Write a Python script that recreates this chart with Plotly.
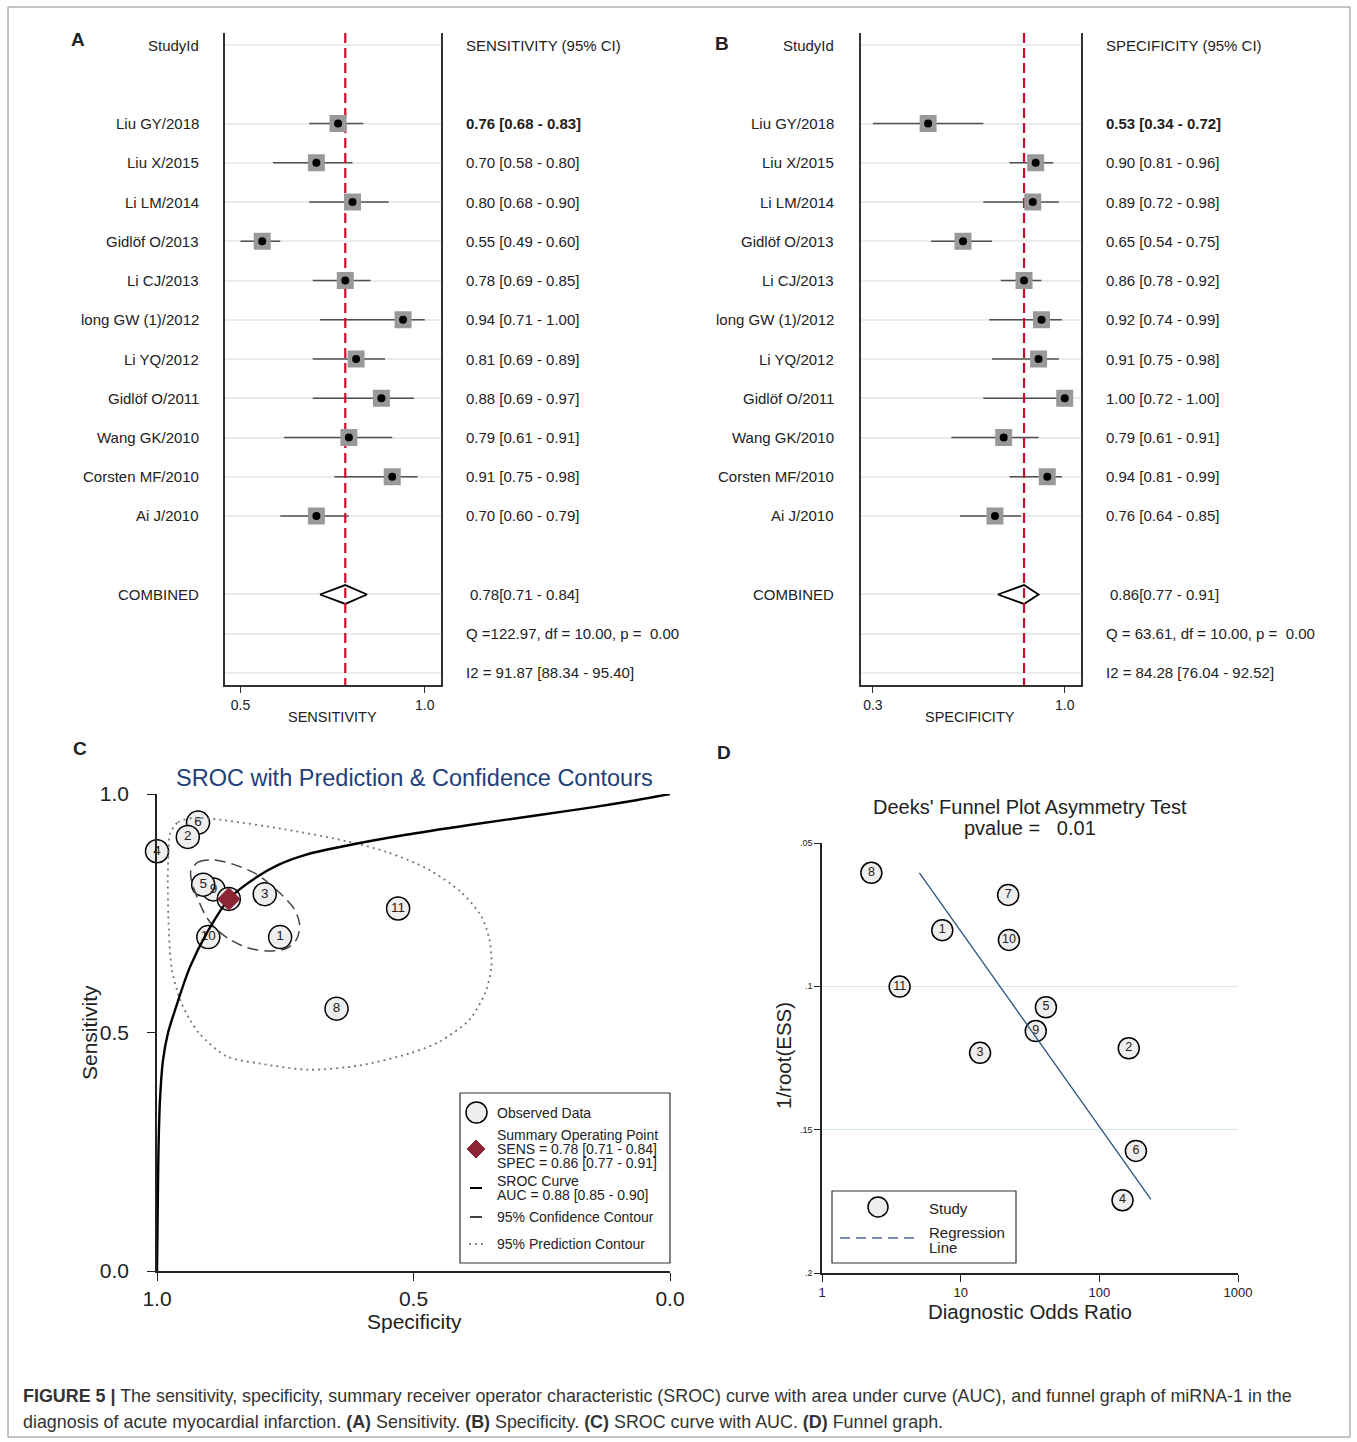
import plotly.graph_objects as go

W, H = 1357, 1442
FONT = "Liberation Sans, Arial, Helvetica, sans-serif"


def px(x):
    return x / W


def py(y):
    return 1 - y / H


# ---------------- data ----------------
studies = ["Liu GY/2018", "Liu X/2015", "Li LM/2014", "Gidlöf O/2013", "Li CJ/2013",
           "long GW (1)/2012", "Li YQ/2012", "Gidlöf O/2011", "Wang GK/2010",
           "Corsten MF/2010", "Ai J/2010"]
study_no = [11, 10, 9, 8, 7, 6, 5, 4, 3, 2, 1]

sens = [0.76, 0.70, 0.80, 0.55, 0.78, 0.94, 0.81, 0.88, 0.79, 0.91, 0.70]
sens_lo = [0.68, 0.58, 0.68, 0.49, 0.69, 0.71, 0.69, 0.69, 0.61, 0.75, 0.60]
sens_hi = [0.83, 0.80, 0.90, 0.60, 0.85, 1.00, 0.89, 0.97, 0.91, 0.98, 0.79]
sens_comb = [0.78, 0.71, 0.84]
sens_q = "Q =122.97, df = 10.00, p =\u00a0\u00a00.00"
sens_i2 = "I2 = 91.87 [88.34 - 95.40]"

spec = [0.53, 0.90, 0.89, 0.65, 0.86, 0.92, 0.91, 1.00, 0.79, 0.94, 0.76]
spec_lo = [0.34, 0.81, 0.72, 0.54, 0.78, 0.74, 0.75, 0.72, 0.61, 0.81, 0.64]
spec_hi = [0.72, 0.96, 0.98, 0.75, 0.92, 0.99, 0.98, 1.00, 0.91, 0.99, 0.85]
spec_comb = [0.86, 0.77, 0.91]
spec_q = "Q = 63.61, df = 10.00, p =\u00a0\u00a00.00"
spec_i2 = "I2 = 84.28 [76.04 - 92.52]"

auc = [0.88, 0.85, 0.90]

# SROC curve (specificity, sensitivity)
sroc_spec = [1.0, 0.9984, 0.9971, 0.9942, 0.9883, 0.9786, 0.9630, 0.9358, 0.9027,
             0.8580, 0.8054, 0.7646, 0.7121, 0.6245, 0.5175, 0.3911, 0.2549, 0.1459,
             0.0661, 0.0]
sroc_sens = [0.0, 0.149, 0.254, 0.358, 0.442, 0.499, 0.553, 0.637, 0.709,
             0.782, 0.826, 0.851, 0.872, 0.893, 0.914, 0.935, 0.956, 0.973,
             0.987, 1.0]

# 95% confidence contour
conf_spec = [0.934, 0.920, 0.890, 0.852, 0.806, 0.761, 0.732, 0.722, 0.728, 0.748,
             0.787, 0.825, 0.858, 0.884, 0.903, 0.920, 0.932, 0.934]
conf_sens = [0.839, 0.857, 0.862, 0.853, 0.832, 0.793, 0.758, 0.727, 0.695, 0.676,
             0.671, 0.678, 0.695, 0.716, 0.741, 0.779, 0.814, 0.839]

# 95% prediction contour
pred_spec = [0.975, 0.959, 0.926, 0.870, 0.751, 0.630, 0.551, 0.471, 0.407, 0.368,
             0.352, 0.348, 0.360, 0.391, 0.449, 0.508, 0.605, 0.702, 0.800, 0.864,
             0.916, 0.936, 0.955, 0.971, 0.977, 0.979, 0.977, 0.975]
pred_sens = [0.916, 0.941, 0.950, 0.945, 0.926, 0.901, 0.878, 0.842, 0.794, 0.744,
             0.695, 0.639, 0.584, 0.527, 0.481, 0.456, 0.431, 0.422, 0.435, 0.450,
             0.496, 0.527, 0.569, 0.632, 0.716, 0.821, 0.895, 0.916]

# Deeks' funnel plot (forest order)
dor = [3.63, 22.3, 34.8, 2.27, 22.0, 183.6, 41.2, 147.0, 13.8, 163.0, 7.37]
inv_root_ess = [0.1001, 0.0838, 0.1156, 0.0604, 0.0681, 0.1574, 0.1073, 0.1746,
                0.1232, 0.1216, 0.0804]
reg_dor = [5.04, 235.5]
reg_y = [0.0604, 0.1743]
deeks_p = 0.01

# ---------------- figure ----------------
fig = go.Figure()
annotations = []
shapes = []


def ann(text, x, y, size=15, xanchor="left", yanchor="middle", xref="paper",
        yref="paper", color="#222", angle=0, family=FONT):
    annotations.append(dict(text=text, x=x, y=y, xref=xref, yref=yref,
                            xanchor=xanchor, yanchor=yanchor, showarrow=False,
                            textangle=angle,
                            font=dict(size=size, color=color, family=family)))


rows = list(range(2, 2 + len(studies)))
comb_row = 14
q_row, i2_row = 15, 16
grid_rows = [0] + rows + [comb_row, q_row, i2_row]


def fmt(v, l, h):
    return f"{v:.2f} [{l:.2f} - {h:.2f}]"


def forest(xa, ya, est, lo, hi, comb, name_x, val_x, header, q, i2):
    xs, ys = [], []
    for l, h, r in zip(lo, hi, rows):
        xs += [l, h, None]
        ys += [r, r, None]
    fig.add_trace(go.Scatter(x=xs, y=ys, mode="lines", xaxis=xa, yaxis=ya,
                             line=dict(color="#505050", width=1.6), hoverinfo="skip"))
    e, l, h = comb
    fig.add_trace(go.Scatter(x=[l, e, h, e, l], y=[comb_row, comb_row - 0.24, comb_row,
                                                   comb_row + 0.24, comb_row],
                             mode="lines", fill="toself", fillcolor="white",
                             line=dict(color="black", width=1.8), xaxis=xa, yaxis=ya,
                             hoverinfo="skip"))
    fig.add_trace(go.Scatter(x=[e, e], y=[-0.306, 16.306], mode="lines", xaxis=xa,
                             yaxis=ya, line=dict(color="#c8102e", width=2.2,
                                                 dash="10px,5px"), hoverinfo="skip"))
    fig.add_trace(go.Scatter(x=est, y=rows, mode="markers", xaxis=xa, yaxis=ya,
                             marker=dict(symbol="square", size=17, color="#999999"),
                             hoverinfo="skip"))
    fig.add_trace(go.Scatter(x=est, y=rows, mode="markers", xaxis=xa, yaxis=ya,
                             marker=dict(symbol="circle", size=8, color="black"),
                             hoverinfo="skip"))
    yref = ya
    ann("StudyId", px(name_x), 0, xanchor="right", yref=yref)
    ann(header, px(val_x), 0, yref=yref)
    for i, (s, v, l2, h2) in enumerate(zip(studies, est, lo, hi)):
        ann(s, px(name_x), rows[i], xanchor="right", yref=yref)
        t = fmt(v, l2, h2)
        if i == 0:
            t = "<b>" + t + "</b>"
        ann(t, px(val_x), rows[i], yref=yref)
    ann("COMBINED", px(name_x), comb_row, xanchor="right", yref=yref)
    ann(f"{e:.2f}[{l:.2f} - {h:.2f}]", px(val_x + 4), comb_row, yref=yref)
    ann(q, px(val_x), q_row, yref=yref)
    ann(i2, px(val_x), i2_row, yref=yref)


forest("x", "y", sens, sens_lo, sens_hi, sens_comb, 201, 464,
       "SENSITIVITY (95% CI)", sens_q, sens_i2)
forest("x2", "y2", spec, spec_lo, spec_hi, spec_comb, 836, 1104,
       "SPECIFICITY (95% CI)", spec_q, spec_i2)
ann("SENSITIVITY", px(332), py(717), size=14.5, xanchor="center")
ann("SPECIFICITY", px(970), py(717), size=14.5, xanchor="center")

# ---------------- panel C ----------------
circ_marker = dict(symbol="circle", size=23, color="#eeeeee",
                   line=dict(color="black", width=1.5))
fig.add_trace(go.Scatter(x=spec, y=sens, mode="markers+text", xaxis="x3", yaxis="y3",
                         text=[str(n) for n in study_no], textposition="middle center",
                         textfont=dict(size=13.5, color="#222", family=FONT),
                         marker=circ_marker, cliponaxis=False, hoverinfo="skip"))
fig.add_trace(go.Scatter(x=pred_spec, y=pred_sens, mode="lines", xaxis="x3", yaxis="y3",
                         line=dict(color="#777777", width=1.8, dash="2px,4px",
                                   shape="spline", smoothing=0.8),
                         cliponaxis=False, hoverinfo="skip"))
fig.add_trace(go.Scatter(x=conf_spec, y=conf_sens, mode="lines", xaxis="x3", yaxis="y3",
                         line=dict(color="#444444", width=1.5, dash="11px,6px",
                                   shape="spline", smoothing=0.8),
                         cliponaxis=False, hoverinfo="skip"))
fig.add_trace(go.Scatter(x=sroc_spec, y=sroc_sens, mode="lines", xaxis="x3", yaxis="y3",
                         line=dict(color="black", width=2.4, shape="spline",
                                   smoothing=0.9),
                         cliponaxis=False, hoverinfo="skip"))
fig.add_trace(go.Scatter(x=[spec_comb[0]], y=[sens_comb[0]], mode="markers",
                         xaxis="x3", yaxis="y3",
                         marker=dict(symbol="diamond", size=18, color="#8b2634"),
                         cliponaxis=False, hoverinfo="skip"))
ann("SROC with Prediction & Confidence Contours", px(414), py(778), size=23.5,
    xanchor="center", color="#1f3f7a")
ann("Sensitivity", px(89), py(1033), size=21, xanchor="center", angle=-90)
ann("Specificity", px(414), py(1321), size=21, xanchor="center")

# legend of C
shapes.append(dict(type="rect", xref="paper", yref="paper", x0=px(460), x1=px(670),
                   y0=py(1263), y1=py(1093), line=dict(color="#333", width=1.2),
                   fillcolor="white", layer="above"))
shapes.append(dict(type="circle", xref="paper", yref="paper", x0=px(466), x1=px(487),
                   y0=py(1123), y1=py(1102), line=dict(color="black", width=1.5),
                   fillcolor="#eeeeee", layer="above"))
dpath = (f"M {px(467)} {py(1149)} L {px(476)} {py(1140)} L {px(485)} {py(1149)} "
         f"L {px(476)} {py(1158)} Z")
shapes.append(dict(type="path", xref="paper", yref="paper", path=dpath,
                   fillcolor="#8b2634", line=dict(color="#8b2634", width=1),
                   layer="above"))
shapes.append(dict(type="line", xref="paper", yref="paper", x0=px(470), x1=px(482),
                   y0=py(1188), y1=py(1188), line=dict(color="black", width=2),
                   layer="above"))
shapes.append(dict(type="line", xref="paper", yref="paper", x0=px(470), x1=px(482),
                   y0=py(1217), y1=py(1217), line=dict(color="black", width=1.5),
                   layer="above"))
shapes.append(dict(type="line", xref="paper", yref="paper", x0=px(469), x1=px(484),
                   y0=py(1244), y1=py(1244),
                   line=dict(color="#666", width=1.5, dash="2px,4px"), layer="above"))
lx = px(495)
ann("Observed Data", lx, py(1113), size=14)
ann("Summary Operating Point", lx, py(1135), size=14)
ann(f"SENS = {sens_comb[0]:.2f} [{sens_comb[1]:.2f} - {sens_comb[2]:.2f}]", lx,
    py(1149), size=14)
ann(f"SPEC = {spec_comb[0]:.2f} [{spec_comb[1]:.2f} - {spec_comb[2]:.2f}]", lx,
    py(1163), size=14)
ann("SROC Curve", lx, py(1181), size=14)
ann(f"AUC = {auc[0]:.2f} [{auc[1]:.2f} - {auc[2]:.2f}]", lx, py(1195), size=14)
ann("95% Confidence Contour", lx, py(1217), size=14)
ann("95% Prediction Contour", lx, py(1244), size=14)

# ---------------- panel D ----------------
fig.add_trace(go.Scatter(x=dor, y=inv_root_ess, mode="markers+text", xaxis="x4",
                         yaxis="y4", text=[str(n) for n in study_no],
                         textposition="middle center",
                         textfont=dict(size=12.5, color="#222", family=FONT),
                         marker=dict(symbol="circle", size=21, color="#eeeeee",
                                     line=dict(color="black", width=1.5)),
                         cliponaxis=False, hoverinfo="skip"))
fig.add_trace(go.Scatter(x=reg_dor, y=reg_y, mode="lines", xaxis="x4", yaxis="y4",
                         line=dict(color="#2b5282", width=1.3), hoverinfo="skip"))
ann("Deeks' Funnel Plot Asymmetry Test", px(1030), py(807), size=20, xanchor="center")
ann(f"pvalue =\u00a0\u00a0\u00a0{deeks_p:.2f}", px(1030), py(828), size=20,
    xanchor="center")
ann("1/root(ESS)", px(783), py(1056), size=20.5, xanchor="center", angle=-90)
ann("Diagnostic Odds Ratio", px(1030), py(1311), size=20.5, xanchor="center")

shapes.append(dict(type="rect", xref="paper", yref="paper", x0=px(832), x1=px(1016),
                   y0=py(1263), y1=py(1191), line=dict(color="#333", width=1.2),
                   fillcolor="white", layer="above"))
shapes.append(dict(type="circle", xref="paper", yref="paper", x0=px(868), x1=px(888),
                   y0=py(1217), y1=py(1197), line=dict(color="black", width=1.5),
                   fillcolor="#eeeeee", layer="above"))
shapes.append(dict(type="line", xref="paper", yref="paper", x0=px(840), x1=px(917),
                   y0=py(1238), y1=py(1238),
                   line=dict(color="#4a6f9a", width=1.5, dash="10px,6px"),
                   layer="above"))
ann("Study", px(927), py(1208), size=15)
ann("Regression", px(927), py(1232), size=15)
ann("Line", px(927), py(1247), size=15)

# ---------------- panel letters, caption, border ----------------
ann("<b>A</b>", px(78), py(40), size=19, xanchor="center")
ann("<b>B</b>", px(722), py(44), size=19, xanchor="center")
ann("<b>C</b>", px(80), py(748), size=19, xanchor="center")
ann("<b>D</b>", px(724), py(752), size=19, xanchor="center")

cap1 = ("<b>FIGURE 5 |</b> The sensitivity, specificity, summary receiver operator "
        "characteristic (SROC) curve with area under curve (AUC), and funnel graph of "
        "miRNA-1 in the")
cap2 = ("diagnosis of acute myocardial infarction. <b>(A)</b> Sensitivity. "
        "<b>(B)</b> Specificity. <b>(C)</b> SROC curve with AUC. <b>(D)</b> Funnel graph.")
ann(cap1, px(21), py(1396), size=17.9, color="#333")
ann(cap2, px(21), py(1422), size=17.9, color="#333")

shapes.append(dict(type="rect", xref="paper", yref="paper", x0=px(8), x1=px(1350),
                   y0=py(1437), y1=py(7), line=dict(color="#888", width=1),
                   layer="below"))

# ---------------- axes ----------------
forest_y = dict(range=[16.306, -0.306], showline=True, mirror=True, linecolor="#333",
                linewidth=1.5, tickvals=grid_rows, showticklabels=False, ticks="",
                showgrid=True, gridcolor="#e8ecec", gridwidth=2, zeroline=False,
                domain=[py(685), py(33)])
forest_x = dict(showline=True, linecolor="#333", linewidth=1.5, ticks="outside",
                ticklen=6, tickcolor="#333", showgrid=False, zeroline=False,
                tickfont=dict(size=14, color="#222"))

layout = dict(
    width=W, height=H, margin=dict(l=0, r=0, t=0, b=0, pad=0, autoexpand=False),
    autosize=False,
    paper_bgcolor="white", plot_bgcolor="rgba(0,0,0,0)", showlegend=False,
    font=dict(family=FONT, color="#222"),
    xaxis=dict(forest_x, domain=[px(225), px(441)], range=[0.447, 1.045],
               tickvals=[min(sens_lo), 1.0], ticktext=["0.5", "1.0"], anchor="y"),
    yaxis=dict(forest_y, anchor="x"),
    xaxis2=dict(forest_x, domain=[px(861), px(1081)], range=[0.299, 1.056],
                tickvals=[min(spec_lo), 1.0], ticktext=["0.3", "1.0"], anchor="y2"),
    yaxis2=dict(forest_y, anchor="x2"),
    xaxis3=dict(domain=[px(157), px(670)], range=[1, 0], showline=True,
                linecolor="#222", linewidth=1.5, ticks="outside", ticklen=8,
                tickcolor="#222", tickvals=[1.0, 0.5, 0.0],
                ticktext=["1.0", "0.5", "0.0"], tickfont=dict(size=21, color="#222"),
                showgrid=False, zeroline=False, anchor="y3"),
    yaxis3=dict(domain=[py(1271), py(794)], range=[0, 1], showline=True,
                linecolor="#222", linewidth=1.5, ticks="outside", ticklen=8,
                tickcolor="#222", tickvals=[0.0, 0.5, 1.0], ticklabelstandoff=14,
                ticktext=["0.0", "0.5", "1.0"], tickfont=dict(size=21, color="#222"),
                showgrid=False, zeroline=False, anchor="x3"),
    xaxis4=dict(type="log", domain=[px(822), px(1238)], range=[0, 3], showline=True,
                linecolor="#222", linewidth=1.5, ticks="outside", ticklen=7,
                tickcolor="#222", tickvals=[1, 10, 100, 1000],
                ticktext=["1", "10", "100", "1000"],
                tickfont=dict(size=13, color="#222"), showgrid=False, zeroline=False,
                anchor="y4"),
    yaxis4=dict(domain=[py(1273), py(843)], range=[0.2, 0.05], showline=True,
                linecolor="#222", linewidth=1.5, ticks="outside", ticklen=6,
                tickcolor="#222", tickvals=[0.05, 0.1, 0.15, 0.2],
                ticktext=[".05", ".1", ".15", ".2"], tickfont=dict(size=9, color="#222"),
                showgrid=True, gridcolor="#d6e9e9", gridwidth=1.3, zeroline=False,
                anchor="x4"),
    annotations=annotations,
    shapes=shapes,
)
fig.update_layout(**layout)
fig.write_html("out.html", config={"responsive": False})
